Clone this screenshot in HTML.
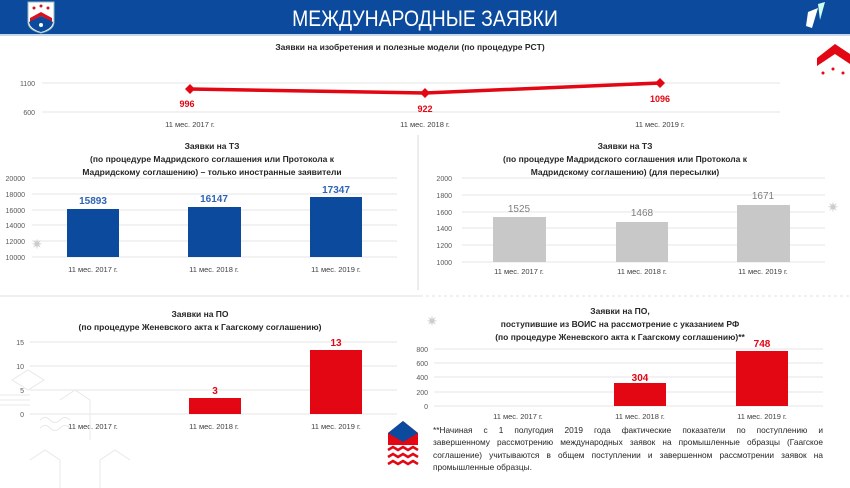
<!DOCTYPE html>
<html><head><meta charset="utf-8"><style>
html,body{margin:0;padding:0;background:#fff;}
svg{display:block;}
text{font-family:"Liberation Sans",sans-serif;}
.t{font-size:8.5px;font-weight:bold;fill:#262626;}
.ax{font-size:7px;fill:#595959;}
.xl{font-size:7.5px;fill:#404040;}
.g{stroke:#e6e6e6;stroke-width:1;}
.fn div{text-align:justify;text-align-last:justify;white-space:nowrap;height:12.3px;}
.fn div.l{text-align-last:left;}
</style></head><body>
<svg width="850" height="488" viewBox="0 0 850 488" xmlns="http://www.w3.org/2000/svg">
<rect x="0" y="0" width="850" height="34" fill="#0b4a9c"/>
<rect x="0" y="34" width="850" height="2" fill="#c9d6ea"/>
<path d="M28 2 H54 V22 Q54 30 41 33 Q28 30 28 22 Z" fill="#fff" stroke="#9bb" stroke-width="1"/>
<path d="M30 18 L41 12 L52 18 V22 L41 16 L30 22Z" fill="#d81020"/>
<circle cx="34" cy="8" r="1.5" fill="#d81020"/><circle cx="41" cy="6" r="1.5" fill="#d81020"/><circle cx="48" cy="8" r="1.5" fill="#d81020"/>
<path d="M29 22 L41 16 L53 22 Q52 29 41 32 Q30 29 29 22Z" fill="#0b4a9c"/>
<circle cx="41" cy="25" r="2" fill="#fff"/>
<text x="425" y="26" text-anchor="middle" fill="#fff" style="font-size:22px;" transform="translate(51,0) scale(0.88,1)">МЕЖДУНАРОДНЫЕ ЗАЯВКИ</text>
<path d="M808 12 L818 8 L812 28 L806 26Z" fill="#fff"/><path d="M818 4 L825 2 L820 20Z" fill="#cfe"/>
<path d="M817 58 L835 44 L850 54 V64 L835 54 L817 66Z" fill="#e30613"/>
<circle cx="823" cy="73" r="1.5" fill="#e30613"/><circle cx="833" cy="69" r="1.5" fill="#e30613"/><circle cx="843" cy="73" r="1.5" fill="#e30613"/>

<text x="410" y="50" text-anchor="middle" class="t">Заявки на изобретения и полезные модели (по процедуре PCT)</text>
<line x1="42" y1="83" x2="780" y2="83" class="g"/>
<line x1="42" y1="112" x2="780" y2="112" class="g"/>
<text x="35" y="86" text-anchor="end" class="ax">1100</text>
<text x="35" y="115" text-anchor="end" class="ax">600</text>
<polyline points="190,89 425,93 660,83" fill="none" stroke="#e30613" stroke-width="3.5"/>
<path d="M190 84 L195 89 L190 94 L185 89Z M425 88 L430 93 L425 98 L420 93Z M660 78 L665 83 L660 88 L655 83Z" fill="#e30613"/>
<text x="187" y="107" text-anchor="middle" fill="#e30613" style="font-size:9px;font-weight:bold">996</text>
<text x="425" y="112" text-anchor="middle" fill="#e30613" style="font-size:9px;font-weight:bold">922</text>
<text x="660" y="102" text-anchor="middle" fill="#e30613" style="font-size:9px;font-weight:bold">1096</text>
<text x="190" y="127" text-anchor="middle" class="xl">11 мес. 2017 г.</text>
<text x="425" y="127" text-anchor="middle" class="xl">11 мес. 2018 г.</text>
<text x="660" y="127" text-anchor="middle" class="xl">11 мес. 2019 г.</text>

<line x1="418" y1="135" x2="418" y2="290" stroke="#d9d9d9"/>
<line x1="0" y1="296" x2="420" y2="296" stroke="#e0e0e0"/>
<line x1="420" y1="296" x2="850" y2="296" stroke="#e0e0e0" stroke-dasharray="3,3"/>

<text x="212" y="149" text-anchor="middle" class="t">Заявки на ТЗ</text>
<text x="212" y="162" text-anchor="middle" class="t">(по процедуре Мадридского соглашения или Протокола к</text>
<text x="212" y="175" text-anchor="middle" class="t">Мадридскому соглашению) – только иностранные заявители</text>
<g class="g">
<line x1="32" y1="178" x2="397" y2="178"/><line x1="32" y1="194" x2="397" y2="194"/><line x1="32" y1="210" x2="397" y2="210"/><line x1="32" y1="225" x2="397" y2="225"/><line x1="32" y1="241" x2="397" y2="241"/><line x1="32" y1="257" x2="397" y2="257"/>
</g>
<g class="ax" text-anchor="end">
<text x="25" y="181">20000</text><text x="25" y="197">18000</text><text x="25" y="213">16000</text><text x="25" y="228">14000</text><text x="25" y="244">12000</text><text x="25" y="260">10000</text>
</g>
<rect x="67" y="209" width="52" height="48" fill="#0b4a9c"/>
<rect x="188" y="207" width="53" height="50" fill="#0b4a9c"/>
<rect x="310" y="197" width="52" height="60" fill="#0b4a9c"/>
<g fill="#2e63b5" style="font-size:10px;font-weight:bold" text-anchor="middle">
<text x="93" y="204">15893</text><text x="214" y="202">16147</text><text x="336" y="193">17347</text>
</g>
<g class="xl" text-anchor="middle"><text x="93" y="272">11 мес. 2017 г.</text><text x="214" y="272">11 мес. 2018 г.</text><text x="336" y="272">11 мес. 2019 г.</text></g>
<text x="37" y="249" text-anchor="middle" fill="#ccc" style="font-size:14px">✷</text>

<text x="625" y="149" text-anchor="middle" class="t">Заявки на ТЗ</text>
<text x="625" y="162" text-anchor="middle" class="t">(по процедуре Мадридского соглашения или Протокола к</text>
<text x="625" y="175" text-anchor="middle" class="t">Мадридскому соглашению) (для пересылки)</text>
<g class="g">
<line x1="462" y1="178" x2="825" y2="178"/><line x1="462" y1="195" x2="825" y2="195"/><line x1="462" y1="212" x2="825" y2="212"/><line x1="462" y1="228" x2="825" y2="228"/><line x1="462" y1="245" x2="825" y2="245"/><line x1="462" y1="262" x2="825" y2="262"/>
</g>
<g class="ax" text-anchor="end">
<text x="452" y="181">2000</text><text x="452" y="198">1800</text><text x="452" y="215">1600</text><text x="452" y="231">1400</text><text x="452" y="248">1200</text><text x="452" y="265">1000</text>
</g>
<rect x="493" y="217" width="53" height="45" fill="#c8c8c8"/>
<rect x="616" y="222" width="52" height="40" fill="#c8c8c8"/>
<rect x="737" y="205" width="53" height="57" fill="#c8c8c8"/>
<g fill="#7f7f7f" style="font-size:10px" text-anchor="middle">
<text x="519" y="212">1525</text><text x="642" y="216">1468</text><text x="763" y="199">1671</text>
</g>
<g class="xl" text-anchor="middle"><text x="519" y="274">11 мес. 2017 г.</text><text x="642" y="274">11 мес. 2018 г.</text><text x="763" y="274">11 мес. 2019 г.</text></g>
<text x="833" y="212" text-anchor="middle" fill="#ccc" style="font-size:14px">✷</text>

<text x="200" y="317" text-anchor="middle" class="t">Заявки на ПО</text>
<text x="200" y="330" text-anchor="middle" class="t">(по процедуре Женевского акта к Гаагскому соглашению)</text>
<g class="g"><line x1="30" y1="342" x2="397" y2="342"/><line x1="30" y1="366" x2="397" y2="366"/><line x1="30" y1="390" x2="397" y2="390"/><line x1="30" y1="414" x2="397" y2="414"/></g>
<g class="ax" text-anchor="end"><text x="24" y="345">15</text><text x="24" y="369">10</text><text x="24" y="393">5</text><text x="24" y="417">0</text></g>
<rect x="189" y="398" width="52" height="16" fill="#e30613"/>
<rect x="310" y="350" width="52" height="64" fill="#e30613"/>
<g fill="#e30613" style="font-size:10px;font-weight:bold" text-anchor="middle"><text x="215" y="394">3</text><text x="336" y="346">13</text></g>
<g class="xl" text-anchor="middle"><text x="93" y="429">11 мес. 2017 г.</text><text x="214" y="429">11 мес. 2018 г.</text><text x="336" y="429">11 мес. 2019 г.</text></g>
<g fill="none" stroke="#e8e8e8" stroke-width="1">
<path d="M12 380 L28 370 L44 380 L28 390Z"/><path d="M0 395 L30 395 M0 400 L30 400 M0 405 L30 405"/>
<path d="M40 420 Q45 415 50 420 Q55 425 60 420 Q65 415 70 420 M40 428 Q45 423 50 428 Q55 433 60 428 Q65 423 70 428"/>
<path d="M30 460 L45 450 L60 460 V488 M100 488 V460 L115 450 L130 460"/><path d="M60 400 L75 390 L90 400 V440"/>
</g>

<text x="620" y="314" text-anchor="middle" class="t">Заявки на ПО,</text>
<text x="620" y="327" text-anchor="middle" class="t">поступившие из ВОИС на рассмотрение с указанием РФ</text>
<text x="620" y="340" text-anchor="middle" class="t">(по процедуре Женевского акта к Гаагскому соглашению)**</text>
<text x="432" y="326" text-anchor="middle" fill="#ccc" style="font-size:14px">✷</text>
<g class="g"><line x1="434" y1="349" x2="823" y2="349"/><line x1="434" y1="363" x2="823" y2="363"/><line x1="434" y1="377" x2="823" y2="377"/><line x1="434" y1="392" x2="823" y2="392"/><line x1="434" y1="406" x2="823" y2="406"/></g>
<g class="ax" text-anchor="end"><text x="428" y="352">800</text><text x="428" y="366">600</text><text x="428" y="380">400</text><text x="428" y="395">200</text><text x="428" y="409">0</text></g>
<rect x="614" y="383" width="52" height="23" fill="#e30613"/>
<rect x="736" y="351" width="52" height="55" fill="#e30613"/>
<g fill="#e30613" style="font-size:10px;font-weight:bold" text-anchor="middle"><text x="640" y="381">304</text><text x="762" y="347">748</text></g>
<g class="xl" text-anchor="middle"><text x="518" y="419">11 мес. 2017 г.</text><text x="640" y="419">11 мес. 2018 г.</text><text x="762" y="419">11 мес. 2019 г.</text></g>

<path d="M388 433 L403 421 L418 433 V445 H388Z" fill="#e30613"/>
<path d="M388 433 L403 421 L418 433 L403 442Z" fill="#0b4a9c"/>
<path d="M388 450 l5 -3 l5 3 l5 -3 l5 3 l5 -3 l5 3 M388 457 l5 -3 l5 3 l5 -3 l5 3 l5 -3 l5 3 M388 464 l5 -3 l5 3 l5 -3 l5 3 l5 -3 l5 3" fill="none" stroke="#e30613" stroke-width="2.5"/>
</svg>
<div class="fn" style="position:absolute;left:433px;top:424px;width:390px;font-family:'Liberation Sans',sans-serif;font-size:8.3px;line-height:12.3px;color:#262626;">
<div>**Начиная с 1 полугодия 2019 года фактические показатели по поступлению и</div>
<div>завершенному рассмотрению международных заявок на промышленные образцы (Гаагское</div>
<div>соглашение) учитываются в общем поступлении и завершенном рассмотрении заявок на</div>
<div class="l">промышленные образцы.</div>
</div>
</body></html>
